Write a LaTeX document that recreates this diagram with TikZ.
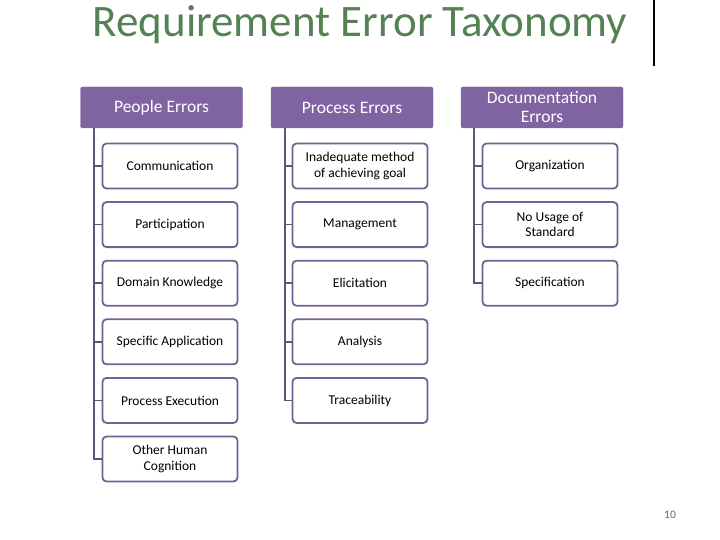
\documentclass[tikz,border=0pt]{standalone}
\usepackage{fontspec}
\setmainfont{Carlito}
\definecolor{hdr}{RGB}{128,100,162}
\definecolor{bord}{RGB}{118,96,146}
\definecolor{ttl}{RGB}{84,130,84}
\begin{document}
\begin{tikzpicture}[x=1pt,y=-1pt,
 hbox/.style={fill=hdr,draw=hdr,rounded corners=2pt,minimum width=162pt,minimum height=41pt,text=white,font=\fontsize{17.5}{19}\selectfont,align=center,inner sep=1pt},
 cbox/.style={draw=bord,line width=1.8pt,rounded corners=4pt,fill=white,minimum width=135pt,minimum height=45pt,font=\fontsize{13.5}{15.5}\selectfont,align=center,inner sep=1pt},
 conn/.style={draw=bord!85!black,line width=1.8pt}]
\useasboundingbox (0,0) rectangle (720,540);
\node[font=\fontsize{45}{48}\selectfont,text=ttl] (title) at (360,25) {Requirement Error Taxonomy};
\coordinate (v1) at (654,0); \coordinate (v2) at (654,66);
\draw[line width=1.5pt] (v1) -- (v2);
\node[font=\fontsize{11.5}{12}\selectfont,text=gray!80!black] (pg) at (670,515) {10};
\node[hbox] (h1) at (161.5,107.5) {People Errors};
\node[hbox] (h2) at (352,107.5) {Process Errors};
\node[hbox] (h3) at (542,107.5) {Documentation\\Errors};
\draw[conn] (h1.south -| 94,0) -- (94,460);
\draw[conn] (h2.south -| 285,0) -- (285,401);
\draw[conn] (h3.south -| 474,0) -- (474,284);
\foreach \n/\t [count=\i] in {a1/Communication,a2/Participation,a3/Domain Knowledge,a4/Specific Application,a5/Process Execution,a6/{Other Human\\Cognition}}{
  \pgfmathsetmacro{\yy}{166+58.6*(\i-1)}
  \node[cbox] (\n) at (170,\yy) {\t};
  \draw[conn] (94,\yy) -- (\n.west);
}
\foreach \n/\t [count=\i] in {b1/{Inadequate method\\of achieving goal},b2/Management,b3/Elicitation,b4/Analysis,b5/Traceability}{
  \pgfmathsetmacro{\yy}{166+58.6*(\i-1)}
  \node[cbox] (\n) at (360,\yy) {\t};
  \draw[conn] (285,\yy) -- (\n.west);
}
\foreach \n/\t [count=\i] in {c1/Organization,c2/{No Usage of\\Standard},c3/Specification}{
  \pgfmathsetmacro{\yy}{166+58.6*(\i-1)}
  \node[cbox] (\n) at (550,\yy) {\t};
  \draw[conn] (474,\yy) -- (\n.west);
}
\end{tikzpicture}
\end{document}
